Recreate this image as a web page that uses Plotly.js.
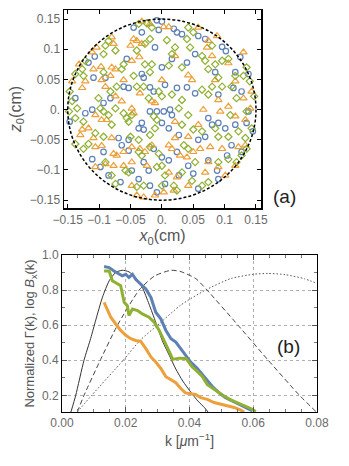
<!DOCTYPE html>
<html><head><meta charset="utf-8">
<script src="https://cdn.plot.ly/plotly-3.0.1.min.js"></script>
<style>html,body{margin:0;padding:0;background:#fff}#chart{width:349px;height:466px}</style>
</head><body><div id="chart"></div>
<script>
// ---------- Panel (a): initial positions (cm) ----------
const blueX = [-0.008,0,-0.045,-0.032,-0.005,0.024,0.019,0.058,0.096,0.102,-0.011,0.016,0.04,0.053,-0.032,-0.056,-0.107,-0.117,-0.109,-0.09,0.125,0.138,0.117,0.085,0,-0.029,0.032,0.069,
 -0.061,-0.053,-0.019,-0.013,0.005,0.024,0.04,0.053,-0.111,-0.122,-0.138,-0.147,-0.019,-0.008,0.003,0.013,0.016,-0.032,-0.037,-0.029,0,0.011,0.058,0.069,0.074,0.08,0.09,0.101,0.117,0.135,0.138,0.127,0.114,0.09,0.145,0.027,-0.069,-0.053,-0.093,-0.082,
 -0.064,-0.053,-0.093,-0.111,-0.098,-0.066,-0.048,-0.029,-0.021,-0.013,0,0.011,-0.019,-0.008,0.005,0.024,0.042,0.05,0.074,0.09,0.088,0.104,0.111,0.127,0.058,0.027,-0.037,-0.085];
const blueZ = [0.148,0.146,0.136,0.128,0.132,0.128,0.134,0.122,0.104,0.097,0.103,0.084,0.078,0.092,0.059,0.084,0.088,0.078,0.053,0.053,0.087,0.059,0.062,0.062,0.07,0.053,0.125,0.117,
 0.038,0.036,0.037,0.03,0.041,0.036,0.037,0.027,0,-0.006,0.019,-0.02,-0.003,-0.003,-0.003,0,-0.009,-0.022,-0.031,-0.033,-0.022,-0.031,-0.05,-0.045,-0.014,-0.025,-0.022,-0.031,-0.025,-0.022,-0.003,0.03,0.036,0.025,-0.036,-0.042,-0.047,-0.05,0.011,0.019,
 -0.059,-0.068,-0.07,-0.082,-0.095,-0.12,-0.101,-0.087,-0.101,-0.065,-0.079,-0.084,-0.126,-0.137,-0.123,-0.07,-0.093,-0.106,-0.084,-0.115,-0.101,-0.076,-0.059,-0.07,-0.131,-0.109,-0.115,-0.109];

const orangeX = [-0.032,-0.019,0.003,0.011,-0.045,-0.04,-0.032,-0.05,-0.08,-0.077,-0.104,-0.111,-0.097,-0.08,-0.074,-0.082,-0.048,-0.036,0.021,0.074,0.072,0.08,0.106,0.042,0.058,0.088,-0.132,-0.109,0.13,
 -0.143,-0.127,-0.122,-0.096,-0.09,-0.061,-0.035,-0.074,-0.064,-0.016,-0.011,-0.048,-0.045,-0.106,-0.096,-0.088,-0.117,-0.127,-0.13,-0.109,-0.08,0.021,0.021,0.042,0.058,0.066,0.09,0.093,0.106,0.117,0.133,0.141,0.13,0.143,0,0.048,0.085,0.117,
 -0.106,-0.096,-0.077,-0.072,-0.061,-0.048,-0.035,-0.027,-0.016,0.011,0.016,0.029,0.04,0.05,0.061,0.077,0.096,0.122,0.133,-0.106,-0.09,-0.077,-0.061,-0.048,-0.024,0.011,0.024,0.042,0.069,0.074,0.09,0.101,0.117,-0.048,-0.04,-0.029,-0.011,0.003,0.019];
const orangeZ = [0.146,0.142,0.137,0.137,0.117,0.114,0.109,0.106,0.12,0.109,0.103,0.095,0.071,0.07,0.067,0.056,0.081,0.087,0.089,0.114,0.103,0.089,0.077,0.057,0.136,0.122,0.075,0.067,0.095,
 0.047,0.036,0.047,0.049,0.038,0.049,0.027,0.022,0.014,0.014,0.011,0.002,-0.006,-0.009,-0.017,-0.017,-0.031,-0.033,-0.042,-0.047,-0.047,-0.02,-0.047,-0.045,-0.025,0,0.016,-0.003,0.005,-0.011,-0.017,0.002,0.019,0.03,0.049,0.049,0.049,0.047,
 -0.062,-0.06,-0.073,-0.076,-0.07,-0.062,-0.065,-0.07,-0.059,-0.059,-0.065,-0.076,-0.079,-0.07,-0.065,-0.062,-0.065,-0.062,-0.059,-0.095,-0.09,-0.093,-0.093,-0.087,-0.093,-0.104,-0.112,-0.126,-0.104,-0.087,-0.095,-0.109,-0.093,-0.126,-0.142,-0.145,-0.142,-0.137,-0.134];

const greenX = [-0.024,-0.016,-0.037,-0.019,-0.027,-0.04,0.008,0.042,0.05,0.04,0.045,0.064,0.069,0.08,0.096,0.106,-0.085,-0.09,-0.074,-0.093,-0.122,-0.127,-0.138,-0.125,-0.093,-0.061,-0.064,-0.045,-0.027,-0.016,-0.019,0.011,0.021,0.016,0.032,0.074,0.085,0.117,0.13,0.135,0.09,
 -0.147,-0.143,-0.135,-0.148,-0.138,-0.125,-0.101,-0.098,-0.093,-0.085,-0.08,-0.074,-0.061,-0.056,-0.048,-0.053,-0.082,-0.072,-0.04,-0.029,-0.005,0,-0.021,-0.013,-0.008,-0.011,-0.019,-0.05,-0.037,0.016,0.027,0.032,0.042,0.064,0.074,0.08,0.096,0.111,0.119,0.109,0.085,0.09,0.106,0.122,0.133,0.143,0.135,0.147,0.14,0.05,0.064,0.032,-0.106,-0.093,
 -0.138,-0.125,-0.117,-0.09,-0.08,-0.074,-0.058,-0.053,-0.037,-0.032,-0.019,-0.005,-0.008,0,0.005,0.019,0.024,0.032,0.048,0.053,0.064,0.074,0.09,0.106,0.119,0.127,0.135,-0.029,-0.04,0,0.035,0.042];
const greenZ = [0.143,0.136,0.142,0.117,0.109,0.098,0.115,0.136,0.128,0.117,0.103,0.089,0.081,0.106,0.081,0.084,0.114,0.106,0.098,0.092,0.081,0.067,0.059,0.056,0.062,0.075,0.067,0.056,0.075,0.075,0.062,0.073,0.103,0.092,0.07,0.067,0.075,0.056,0.056,0.07,0.053,
 0.03,0.014,0.002,-0.003,-0.014,-0.02,0.019,0.002,-0.003,-0.009,-0.025,0.002,-0.006,-0.014,-0.009,-0.02,0.03,0.038,0.038,0.038,0.03,0.022,0.019,-0.011,-0.017,-0.031,-0.042,-0.045,-0.05,0.025,0.002,0.016,-0.009,0.033,0.025,0.038,0.038,0.038,0.019,-0.009,-0.031,-0.045,-0.045,-0.036,-0.047,-0.031,-0.003,0.022,0.047,-0.033,-0.036,-0.025,-0.039,-0.045,
 -0.057,-0.065,-0.057,-0.087,-0.109,-0.123,-0.101,-0.104,-0.07,-0.076,-0.062,-0.073,-0.095,-0.093,-0.109,-0.126,-0.134,-0.104,-0.118,-0.087,-0.126,-0.12,-0.087,-0.082,-0.087,-0.076,-0.065,-0.126,-0.128,-0.126,-0.059,-0.065];

const circleR = 0.15;
const aTickVals = [-0.15,-0.1,-0.05,0,0.05,0.1,0.15];
const aTickText = ["\u22120.15","\u22120.1","\u22120.05","0.","0.05","0.1","0.15"];

// ---------- Panel (b): spectra ----------
const blueK = [0.0132,0.0148,0.0163,0.0179,0.0189,0.0200,0.0210,0.0221,0.0231,0.0247,0.0263,0.0279,0.0294,0.0310,0.0326,0.0342,0.0357,0.0373,0.0389,0.0403,0.0424,0.0440,0.0456,0.0471,0.0492,0.0513,0.0534,0.0555,0.0576,0.0597];
const blueG = [0.934,0.928,0.909,0.890,0.881,0.890,0.872,0.890,0.862,0.834,0.806,0.758,0.674,0.636,0.570,0.523,0.504,0.465,0.429,0.391,0.354,0.317,0.280,0.252,0.215,0.187,0.168,0.149,0.134,0.112];
const greenK = [0.0132,0.0148,0.0158,0.0174,0.0184,0.0195,0.0205,0.0210,0.0221,0.0237,0.0252,0.0273,0.0289,0.0305,0.0326,0.0342,0.0347,0.0368,0.0389,0.0408,0.0424,0.0440,0.0456,0.0471,0.0487,0.0508,0.0529,0.0550,0.0571,0.0592,0.0608];
const greenG = [0.909,0.909,0.853,0.834,0.825,0.730,0.711,0.655,0.692,0.683,0.664,0.645,0.617,0.570,0.494,0.428,0.405,0.412,0.410,0.363,0.336,0.308,0.261,0.242,0.224,0.196,0.174,0.159,0.140,0.125,0.107];
const orangeK = [0.0132,0.0142,0.0153,0.0168,0.0184,0.0200,0.0216,0.0231,0.0247,0.0263,0.0279,0.0294,0.0310,0.0326,0.0342,0.0357,0.0372,0.0387,0.0403,0.0419,0.0435,0.0456,0.0477,0.0497,0.0519,0.0540,0.0561,0.0571];
const orangeG = [0.730,0.692,0.645,0.608,0.570,0.542,0.523,0.513,0.508,0.466,0.419,0.390,0.353,0.306,0.290,0.272,0.240,0.214,0.209,0.205,0.187,0.177,0.159,0.149,0.140,0.131,0.116,0.103];

const solidK = [0.0028,0.0043,0.0069,0.0090,0.0106,0.0127,0.0148,0.0168,0.0189,0.0210,0.0231,0.0252,0.0273,0.0294,0.0315,0.0336,0.0357,0.0379,0.0405,0.0426,0.0447,0.0458];
const solidB = [0.105,0.200,0.400,0.525,0.630,0.760,0.853,0.900,0.913,0.904,0.872,0.815,0.720,0.617,0.510,0.430,0.350,0.281,0.216,0.168,0.130,0.105];
const dashK = [0.0048,0.0069,0.0121,0.0174,0.0242,0.0290,0.0342,0.0373,0.0420,0.0455,0.0552,0.0647,0.0745,0.0798];
const dashB = [0.105,0.200,0.404,0.600,0.800,0.880,0.913,0.905,0.865,0.800,0.600,0.400,0.200,0.105];
const dotK = [0.0048,0.0093,0.0192,0.0247,0.0300,0.0373,0.0450,0.0530,0.0600,0.0646,0.0700,0.0760,0.0800];
const dotB = [0.105,0.200,0.400,0.517,0.600,0.715,0.800,0.866,0.890,0.895,0.888,0.865,0.838];

const bTickValsX = [0,0.02,0.04,0.06,0.08];
const bTickTextX = ["0.00","0.02","0.04","0.06","0.08"];
const bTickValsY = [0.2,0.4,0.6,0.8,1.0];
const bTickTextY = ["0.2","0.4","0.6","0.8","1.0"];

const C_BLUE = '#5E81B5', C_ORANGE = '#EDA03A', C_GREEN = '#8FB032';
const FONT = 'Liberation Sans, Arial, sans-serif';
const tickFont = {family: FONT, size: 12, color: '#6a6a6a'};

const traces = [
  {type:'scatter', mode:'markers', x: blueX, y: blueZ, xaxis:'x', yaxis:'y',
   marker:{symbol:'circle-open', size:5.5, color:C_BLUE, line:{width:1.2, color:C_BLUE}}, hoverinfo:'skip'},
  {type:'scatter', mode:'markers', x: orangeX, y: orangeZ, xaxis:'x', yaxis:'y',
   marker:{symbol:'triangle-up-open', size:6.5, color:C_ORANGE, line:{width:1.2, color:C_ORANGE}}, hoverinfo:'skip'},
  {type:'scatter', mode:'markers', x: greenX, y: greenZ, xaxis:'x', yaxis:'y',
   marker:{symbol:'diamond-open', size:5.5, color:C_GREEN, line:{width:1.2, color:C_GREEN}}, hoverinfo:'skip'},

  {type:'scatter', mode:'lines', x: solidK, y: solidB, xaxis:'x2', yaxis:'y2',
   line:{color:'#333', width:1, shape:'spline', smoothing:0.6}},
  {type:'scatter', mode:'lines', x: dashK, y: dashB, xaxis:'x2', yaxis:'y2',
   line:{color:'#444', width:1, dash:'5px,3px', shape:'spline', smoothing:0.6}},
  {type:'scatter', mode:'lines', x: dotK, y: dotB, xaxis:'x2', yaxis:'y2',
   line:{color:'#555', width:1, dash:'1.5px,2px', shape:'spline', smoothing:0.6}},
  {type:'scatter', mode:'lines', x: blueK, y: blueG, xaxis:'x2', yaxis:'y2',
   line:{color:C_BLUE, width:3}},
  {type:'scatter', mode:'lines', x: orangeK, y: orangeG, xaxis:'x2', yaxis:'y2',
   line:{color:C_ORANGE, width:3}},
  {type:'scatter', mode:'lines', x: greenK, y: greenG, xaxis:'x2', yaxis:'y2',
   line:{color:C_GREEN, width:3}}
];

const layout = {
  width: 349, height: 466,
  margin: {l:0, r:0, t:0, b:0},
  paper_bgcolor: '#fff', plot_bgcolor: '#fff',
  showlegend: false,
  font: {family: FONT, color:'#555'},
  xaxis: {domain:[0.1834,0.7479], anchor:'y', range:[-0.156,0.158],
    tickmode:'array', tickvals:aTickVals, ticktext:aTickText, tickfont:tickFont,
    ticks:'inside', ticklen:4, tickcolor:'#000', showline:true, linecolor:'#000', linewidth:1.5, mirror:'ticks',
    showgrid:false, zeroline:false,
    title:{text:'<i>x</i><sub>0</sub>(cm)', font:{family:FONT, size:16, color:'#555'}, standoff:4}},
  yaxis: {domain:[0.5536,0.9785], anchor:'x', range:[-0.163,0.165],
    tickmode:'array', tickvals:aTickVals, ticktext:aTickText, tickfont:tickFont,
    ticks:'inside', ticklen:4, tickcolor:'#000', showline:true, linecolor:'#000', linewidth:1.5, mirror:'ticks',
    showgrid:false, zeroline:false,
    title:{text:'<i>z</i><sub>0</sub>(cm)', font:{family:FONT, size:16, color:'#555'}, standoff:4}},
  xaxis2: {domain:[0.1777,0.9083], anchor:'y2', range:[0,0.08],
    tickmode:'array', tickvals:bTickValsX, ticktext:bTickTextX, tickfont:tickFont,
    ticks:'inside', ticklen:5, tickcolor:'#555', showline:true, linecolor:'#000', linewidth:1, mirror:'allticks',
    minor:{tick0:0, dtick:0.005, ticks:'inside', ticklen:3, tickcolor:'#777', showgrid:false},
    showgrid:true, gridcolor:'#b0b0b0', griddash:'dot', gridwidth:1, zeroline:false,
    title:{text:'k [<i>μ</i>m<sup>−1</sup>]', font:{family:FONT, size:14, color:'#555'}, standoff:6}},
  yaxis2: {domain:[0.1159,0.4528], anchor:'x2', range:[0.105,1.0],
    tickmode:'array', tickvals:bTickValsY, ticktext:bTickTextY, tickfont:tickFont,
    ticks:'inside', ticklen:5, tickcolor:'#555', showline:true, linecolor:'#000', linewidth:1, mirror:'allticks',
    minor:{tick0:0, dtick:0.1, ticks:'inside', ticklen:3, tickcolor:'#777', showgrid:false},
    showgrid:true, gridcolor:'#b0b0b0', griddash:'dot', gridwidth:1, zeroline:false,
    title:{text:'Normalized Γ(k), log <i>B</i><sub>x</sub>(k)', font:{family:FONT, size:13, color:'#555'}, standoff:4}},
  shapes: [
    {type:'circle', xref:'x', yref:'y', x0:-circleR, x1:circleR, y0:-circleR, y1:circleR,
     line:{color:'#000', width:1.5, dash:'3px,2px'}, layer:'above'}
  ],
  annotations: [
    {text:'(a)', xref:'paper', yref:'paper', x:0.8166, y:0.5773, xanchor:'center', yanchor:'middle', showarrow:false,
     font:{family:FONT, size:19, color:'#222'}},
    {text:'(b)', xref:'paper', yref:'paper', x:0.828, y:0.2554, xanchor:'center', yanchor:'middle', showarrow:false,
     font:{family:FONT, size:19, color:'#222'}}
  ]
};

Plotly.newPlot('chart', traces, layout, {displayModeBar:false, staticPlot:true});
</script>
</body></html>
